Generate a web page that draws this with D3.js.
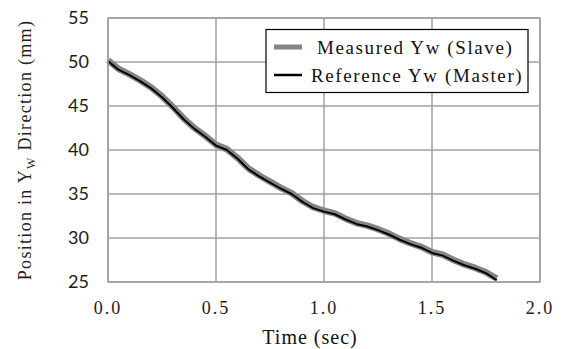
<!DOCTYPE html>
<html><head><meta charset="utf-8">
<script src="https://cdn.jsdelivr.net/npm/d3@7"></script>
<style>body{margin:0;background:#fff}</style>
</head><body>
<script>
const times = [0,0.05,0.10,0.15,0.20,0.25,0.30,0.35,0.40,0.45,0.50,0.55,0.60,0.65,0.70,0.75,0.80,0.85,0.90,0.95,1.00,1.05,1.10,1.15,1.20,1.25,1.30,1.35,1.40,1.45,1.50,1.55,1.60,1.65,1.70,1.75,1.80];
const referenceYw = [50.1,49.1,48.5,47.8,47.0,46.0,44.8,43.5,42.4,41.5,40.5,40.0,39.0,37.8,37.0,36.3,35.6,35.0,34.1,33.4,33.0,32.7,32.1,31.6,31.3,30.9,30.4,29.8,29.3,28.9,28.3,28.0,27.4,26.9,26.5,26.0,25.2];
const measuredYw  = [50.2,49.2,48.6,47.9,47.1,46.1,44.9,43.6,42.5,41.6,40.6,40.1,39.1,37.9,37.1,36.4,35.7,35.1,34.2,33.5,33.1,32.8,32.2,31.7,31.4,31.0,30.5,29.9,29.4,29.0,28.4,28.1,27.5,27.0,26.6,26.1,25.4];
const xTicks = [0,0.5,1.0,1.5,2.0];
const yTicks = [25,30,35,40,45,50,55];
const seriesNames = ["Measured Yw (Slave)","Reference Yw (Master)"];

const W=566,H=349;
const svg=d3.select("body").append("svg").attr("width",W).attr("height",H);
const x=d3.scaleLinear().domain([0,2]).range([108,540]);
const y=d3.scaleLinear().domain([25,55]).range([282,18]);

// grid
svg.append("g").selectAll("line").data(yTicks).join("line")
  .attr("x1",108).attr("x2",540).attr("y1",d=>y(d)).attr("y2",d=>y(d))
  .attr("stroke","#a0a0a0").attr("stroke-width",1.5);
svg.append("g").selectAll("line").data(xTicks).join("line")
  .attr("y1",18).attr("y2",282).attr("x1",d=>x(d)).attr("x2",d=>x(d))
  .attr("stroke","#a0a0a0").attr("stroke-width",1.5);

// y tick labels
svg.append("g").selectAll("text").data(yTicks).join("text")
  .attr("x",89).attr("y",d=>y(d)).attr("dy","0.35em").attr("text-anchor","end")
  .attr("font-family","Lato, 'Open Sans', sans-serif").attr("font-size",18).attr("fill","#1a1a1a")
  .text(d=>d);
// x tick labels
svg.append("g").selectAll("text").data(xTicks).join("text")
  .attr("x",d=>x(d)).attr("y",314).attr("text-anchor","middle")
  .attr("font-family","'Liberation Serif', serif").attr("font-size",18).attr("letter-spacing",2).attr("fill","#1a1a1a")
  .text(d=>d3.format(".1f")(d));

// axis titles
svg.append("text").attr("x",310).attr("y",344).attr("text-anchor","middle")
  .attr("font-family","'Liberation Serif', serif").attr("font-size",20).attr("letter-spacing",1).attr("fill","#111")
  .text("Time (sec)");
const yt=svg.append("text").attr("transform","translate(31,150) rotate(-90)").attr("text-anchor","middle")
  .attr("font-family","'Liberation Serif', serif").attr("font-size",18).attr("letter-spacing",1.3).attr("fill","#222");
yt.append("tspan").text("Position in Y");
yt.append("tspan").attr("font-size",12).attr("dy",4).text("W");
yt.append("tspan").attr("dy",-4).text(" Direction (mm)");

// lines
const line=d3.line().x(d=>x(d[0])).y(d=>y(d[1]));
svg.append("path").datum(times.map((t,i)=>[t,measuredYw[i]])).attr("d",line)
  .attr("fill","none").attr("stroke","#858585").attr("stroke-width",6.5).attr("stroke-linejoin","round");
svg.append("path").datum(times.map((t,i)=>[t,referenceYw[i]])).attr("d",line)
  .attr("fill","none").attr("stroke","#000").attr("stroke-width",2).attr("stroke-linejoin","round");

// legend
const lg=svg.append("g");
lg.append("rect").attr("x",266).attr("y",29.5).attr("width",262).attr("height",63)
  .attr("fill","#fff").attr("stroke","#000").attr("stroke-width",1.2);
const lc=["#858585","#000"], lw=[5,2.5], ly=[47,75], lx=[317,311];
seriesNames.forEach((n,i)=>{
  lg.append("line").attr("x1",274).attr("x2",302).attr("y1",ly[i]).attr("y2",ly[i])
    .attr("stroke",lc[i]).attr("stroke-width",lw[i]);
  lg.append("text").attr("x",lx[i]).attr("y",ly[i]).attr("dy","0.35em")
    .attr("font-family","'Liberation Serif', serif").attr("font-size",19).attr("letter-spacing",1.6).attr("fill","#111")
    .text(n);
});

// plot border
svg.append("rect").attr("x",108).attr("y",18).attr("width",432).attr("height",264)
  .attr("fill","none").attr("stroke","#a0a0a0").attr("stroke-width",1.5);
</script>
</body></html>
